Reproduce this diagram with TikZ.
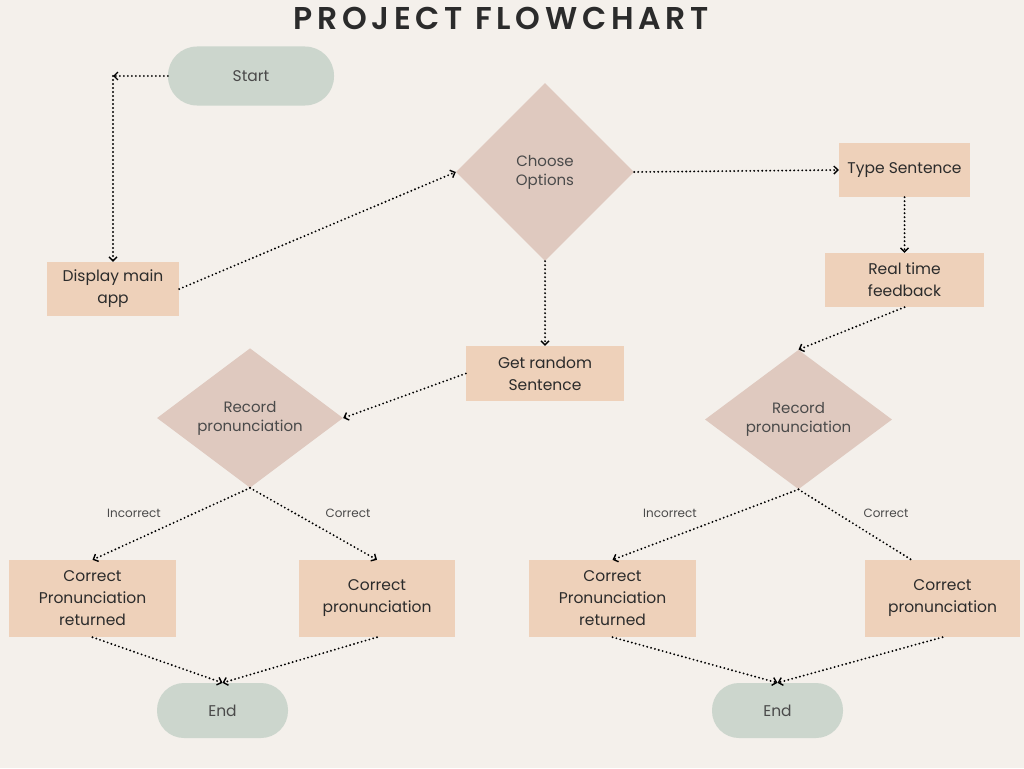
\documentclass[tikz,border=0pt]{standalone}
\usepackage{fontspec}
\setmainfont{Poppins}
\newfontfamily\titlefont{Poppins SemiBold}
\usetikzlibrary{shapes.geometric,arrows.meta,calc}
\definecolor{bg}{HTML}{F4F0EB}
\definecolor{pill}{HTML}{CCD6CD}
\definecolor{boxc}{HTML}{EED1BA}
\definecolor{dia}{HTML}{DFC9BF}
\definecolor{txt}{HTML}{2B2B2B}
\definecolor{gtxt}{HTML}{4A4A4A}
\begin{document}
\begin{tikzpicture}[x=1pt,y=-1pt,
  pillbox/.style={fill=pill,draw=none,rounded corners=27pt,minimum width=131pt,minimum height=55pt,inner sep=0pt,text=gtxt,font=\fontsize{15.5}{21}\selectfont},
  procbox/.style={fill=boxc,draw=none,inner sep=0pt,align=center,text=txt,font=\fontsize{15.5}{22}\selectfont},
  decision/.style={diamond,fill=dia,draw=none,inner sep=0pt,align=center,text=gtxt,font=\fontsize{15}{19}\selectfont},
  flow/.style={draw=black,line width=2.1pt,dash pattern=on 0pt off 4pt,line cap=round,-{Straight Barb[length=4pt,width=8pt,line width=1.4pt,line cap=butt]}},
  flowplain/.style={draw=black,line width=2.1pt,dash pattern=on 0pt off 4pt,line cap=round},
  lbl/.style={text=gtxt,font=\fontsize{12}{14}\selectfont}]
\useasboundingbox[fill=bg] (0,0) rectangle (1024,768);
\node[text=txt,font=\fontsize{31.5}{36}\selectfont\titlefont\addfontfeatures{LetterSpace=15}] (title) at (501,18) {PROJECT FLOWCHART};
% nodes
\node[pillbox,minimum width=166pt,minimum height=59pt,rounded corners=29pt] (start) at (251,76) {Start};
\node[procbox,minimum width=132pt,minimum height=54pt] (disp) at (113,289) {Display main\\app};
\node[decision,minimum width=178pt,minimum height=178pt] (choose) at (545,172) {Choose\\Options};
\node[procbox,minimum width=131pt,minimum height=54pt] (type) at (904.5,170) {Type Sentence};
\node[procbox,minimum width=159pt,minimum height=54pt] (rt) at (904.5,280) {Real time\\feedback};
\node[procbox,minimum width=158pt,minimum height=55pt] (grs) at (545,373.5) {Get random\\Sentence};
\node[decision,minimum width=186pt,minimum height=125pt] (recL) at (250,418) {Record\\pronunciation};
\node[decision,minimum width=187pt,minimum height=124pt] (recR) at (798.5,419.5) {Record\\pronunciation};
\node[procbox,minimum width=167pt,minimum height=77pt] (cprL) at (92.5,598.5) {Correct\\Pronunciation\\returned};
\node[procbox,minimum width=156pt,minimum height=77pt] (cpL) at (377,598.5) {Correct\\pronunciation};
\node[procbox,minimum width=167pt,minimum height=77pt] (cprR) at (612.5,598.5) {Correct\\Pronunciation\\returned};
\node[procbox,minimum width=155pt,minimum height=77pt] (cpR) at (942.5,598.5) {Correct\\pronunciation};
\node[pillbox] (endL) at (222.5,710.5) {End};
\node[pillbox] (endR) at (777.5,710.5) {End};
% connectors
\coordinate (c1) at (113,76);
\coordinate (cpRin) at ($(cpR.north west)!0.3!(cpR.north east)$);
\draw[flow] (start.west) -- (c1);
\draw[flow] (c1) -- (disp.north);
\draw[flow] (disp.east) -- (choose.west);
\draw[flow] (choose.east) -- (type.west);
\draw[flow] (choose.south) -- (grs.north);
\draw[flow] (type.south) -- (rt.north);
\draw[flow] (rt.south) -- (recR.north);
\draw[flow] (grs.west) -- (recL.east);
\draw[flow] (recL.south) -- (cprL.north);
\draw[flow] (recL.south) -- (cpL.north);
\draw[flow] (recR.south) -- (cprR.north);
\draw[flowplain] (recR.south) -- (cpRin);
\draw[flow] (cprL.south) -- (endL.north);
\draw[flow] (cpL.south) -- (endL.north);
\draw[flow] (cprR.south) -- (endR.north);
\draw[flow] (cpR.south) -- (endR.north);
% labels
\node[lbl] (l1) at (134,513) {Incorrect};
\node[lbl] (l2) at (348,513) {Correct};
\node[lbl] (l3) at (670,513) {Incorrect};
\node[lbl] (l4) at (886,513) {Correct};
\end{tikzpicture}
\end{document}
